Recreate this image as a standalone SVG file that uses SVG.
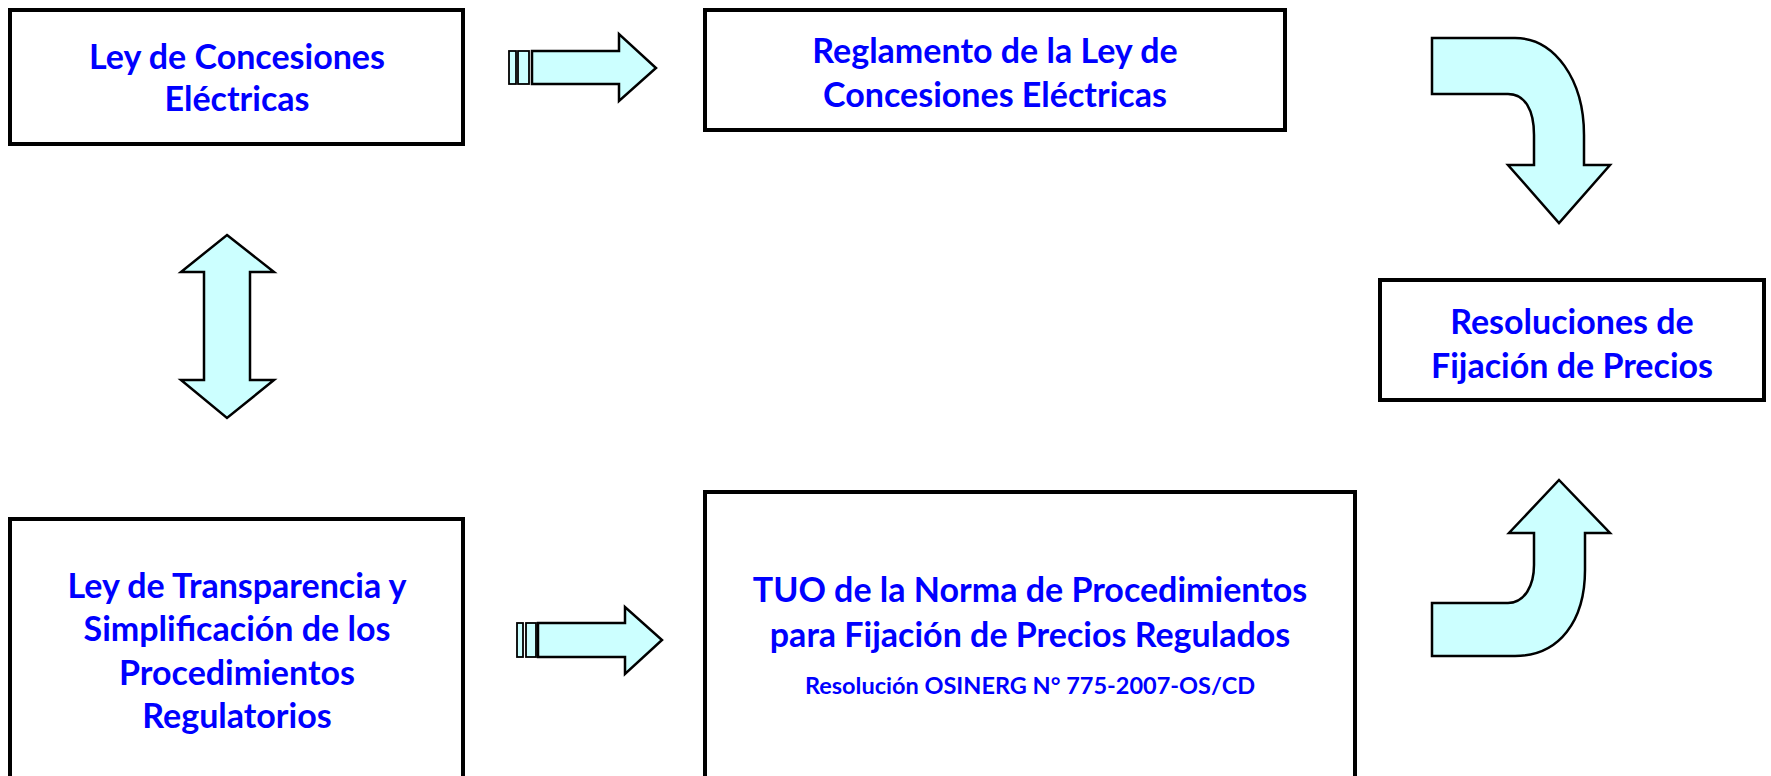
<svg xmlns="http://www.w3.org/2000/svg" width="1771" height="776" viewBox="0 0 1771 776">
<style>
.box{fill:#fff;stroke:#000;stroke-width:4}
.arr{fill:#ccffff;stroke:#000;stroke-width:2.5;stroke-linejoin:miter}
.st{fill:#ccffff;stroke:#000;stroke-width:1.8}
.t{font-family:Lato,"Open Sans","Liberation Sans",sans-serif;font-weight:bold;fill:#0000ff;font-size:34px;text-anchor:middle}
.s{font-size:23.5px}
</style>
<rect width="1771" height="776" fill="#fff"/>
<g id="n1"><rect class="box" x="10" y="10" width="453" height="134"/>
<text class="t" x="237" y="69">Ley de Concesiones</text>
<text class="t" x="237" y="111">Eléctricas</text></g>
<g id="n2"><rect class="box" x="705" y="10" width="580" height="120"/>
<text class="t" x="995" y="63">Reglamento de la Ley de</text>
<text class="t" x="995" y="107">Concesiones Eléctricas</text></g>
<g id="n3"><rect class="box" x="1380" y="280" width="384" height="120"/>
<text class="t" x="1572" y="334">Resoluciones de</text>
<text class="t" x="1572" y="378">Fijación de Precios</text></g>
<g id="n4"><rect class="box" x="10" y="519" width="453" height="280"/>
<text class="t" x="237" y="598">Ley de Transparencia y</text>
<text class="t" x="237" y="641">Simplificación de los</text>
<text class="t" x="237" y="685">Procedimientos</text>
<text class="t" x="237" y="728">Regulatorios</text></g>
<g id="n5"><rect class="box" x="705" y="492" width="650" height="310"/>
<text class="t" x="1030" y="602">TUO de la Norma de Procedimientos</text>
<text class="t" x="1030" y="647">para Fijación de Precios Regulados</text>
<text class="t s" x="1030" y="694">Resolución OSINERG N° 775-2007-OS/CD</text></g>
<g id="connectors">
<rect class="st" x="509" y="51" width="7" height="33"/>
<rect class="st" x="518" y="51" width="11" height="33"/>
<path class="arr" d="M532,51 L619,51 L619,34 L656,68 L619,101 L619,84 L532,84 Z"/>
<rect class="st" x="517" y="623" width="6" height="34"/>
<rect class="st" x="526" y="623" width="10" height="34"/>
<path class="arr" d="M538,623 L625,623 L625,607 L662,640 L625,674 L625,657 L538,657 Z"/>
<path class="arr" d="M227,235 L274,272 L250,272 L250,380 L274,380 L227,418 L181,380 L204,380 L204,272 L181,272 Z"/>
<path class="arr" d="M1432,38 L1515,38 C1555,38 1584,80 1584,135 L1584,165 L1610,165 L1559,223 L1508,165 L1534,165 L1534,135 C1534,110 1525,94 1508,94 L1432,94 Z"/>
<path class="arr" d="M1432,603 L1508,603 C1525,603 1534,585 1534,565 L1534,533 L1509,533 L1559,480 L1610,533 L1585,533 L1585,570 C1585,620 1560,656 1515,656 L1432,656 Z"/>
</g>
</svg>
